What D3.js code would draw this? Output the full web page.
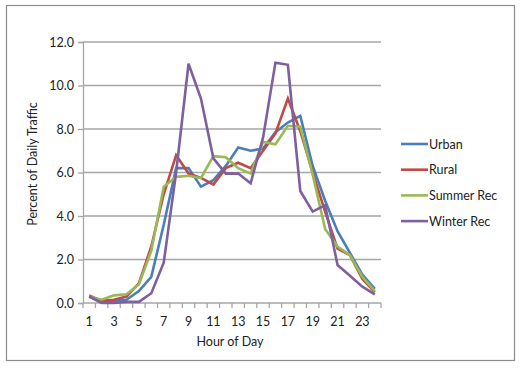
<!DOCTYPE html>
<html><head><meta charset="utf-8">
<script src="https://cdn.jsdelivr.net/npm/d3@7/dist/d3.min.js"></script>
<style>body{margin:0;background:#fff;}svg{display:block;}</style>
</head><body>
<script>
const hours = d3.range(1, 25);
const xTickLabels = [1,3,5,7,9,11,13,15,17,19,21,23];
const yTicks = [0,2,4,6,8,10,12];
const seriesNames = ["Urban","Rural","Summer Rec","Winter Rec"];
const seriesColors = ["#4A7EBB","#BE4B48","#98B954","#7D60A0"];
const urban = [0.3,0.1,0.1,0.15,0.55,1.2,3.6,6.2,6.2,5.35,5.65,6.3,7.15,7.0,7.1,7.85,8.3,8.6,6.3,4.7,3.3,2.3,1.3,0.65];
const rural = [0.35,0.1,0.15,0.3,0.9,2.6,5.0,6.8,5.95,5.75,5.45,6.2,6.45,6.2,7.0,7.8,9.4,7.9,6.0,4.2,2.5,2.2,1.1,0.5];
const summerRec = [0.3,0.15,0.35,0.4,0.85,2.4,5.35,5.8,5.85,5.75,6.75,6.7,6.2,5.95,7.4,7.3,8.15,8.1,5.9,3.4,2.6,2.2,1.2,0.55];
const winterRec = [0.3,0.0,0.0,0.05,0.05,0.45,1.85,6.0,11.0,9.4,6.65,5.95,5.95,5.5,7.6,11.05,10.95,5.15,4.2,4.5,1.75,1.25,0.75,0.4];
const allSeries = [urban, rural, summerRec, winterRec];

const W = 527, H = 368;
const mLeft = 83, mRight = 381, mTop = 42, mBottom = 303;
const font = "Lato, 'Open Sans', sans-serif";

const svg = d3.select("body").append("svg").attr("width", W).attr("height", H);
svg.append("rect").attr("x", 6.5).attr("y", 5.5).attr("width", 508).attr("height", 355)
  .attr("fill", "#fff").attr("stroke", "#8c8c8c").attr("stroke-width", 1.2);

const x = d3.scaleBand().domain(hours).range([mLeft, mRight]).padding(0);
const y = d3.scaleLinear().domain([0, 12]).range([mBottom, mTop]);

// gridlines
svg.append("g").selectAll("line").data(yTicks.filter(d => d > 0)).join("line")
  .attr("x1", mLeft).attr("x2", mRight).attr("y1", d => y(d)).attr("y2", d => y(d))
  .attr("stroke", "#a6a6a6").attr("stroke-width", 1.3);

// y axis
const yAxis = svg.append("g").attr("transform", `translate(${mLeft},0)`)
  .call(d3.axisLeft(y).tickValues(yTicks).tickFormat(d3.format(".1f")).tickSize(5).tickPadding(4));
yAxis.select(".domain").attr("stroke", "#a6a6a6").attr("stroke-width", 1.3);
yAxis.selectAll(".tick line").attr("stroke", "#a6a6a6").attr("stroke-width", 1.3);
yAxis.selectAll("text").attr("font-family", font).attr("font-size", 12.5).attr("fill", "#222");

// x axis baseline and ticks between categories
const xg = svg.append("g");
xg.append("line").attr("x1", mLeft).attr("x2", mRight).attr("y1", mBottom).attr("y2", mBottom)
  .attr("stroke", "#a6a6a6").attr("stroke-width", 1.3);
const boundaries = hours.map(h => x(h)).concat([x(24) + x.bandwidth()]);
xg.selectAll("line.t").data(boundaries).join("line").attr("class", "t")
  .attr("x1", d => d).attr("x2", d => d).attr("y1", mBottom).attr("y2", mBottom + 5)
  .attr("stroke", "#a6a6a6").attr("stroke-width", 1.3);
xg.selectAll("text").data(xTickLabels).join("text")
  .attr("x", d => x(d) + x.bandwidth() / 2).attr("y", mBottom + 23)
  .attr("text-anchor", "middle").attr("font-family", font).attr("font-size", 12.5).attr("fill", "#222")
  .text(d => d);

// lines
const line = d3.line().x((d, i) => x(hours[i]) + x.bandwidth() / 2).y(d => y(d));
svg.append("g").selectAll("path").data(allSeries).join("path")
  .attr("d", d => line(d)).attr("fill", "none")
  .attr("stroke", (d, i) => seriesColors[i]).attr("stroke-width", 2.6)
  .attr("stroke-linejoin", "miter");

// axis titles
svg.append("text").attr("x", 230).attr("y", 346).attr("text-anchor", "middle")
  .attr("font-family", font).attr("font-size", 12.5).attr("fill", "#222").text("Hour of Day");
svg.append("text").attr("transform", "translate(37,164) rotate(-90)").attr("text-anchor", "middle")
  .attr("font-family", font).attr("font-size", 12.5).attr("fill", "#222").text("Percent of Daily Traffic");

// legend
const lg = svg.append("g").selectAll("g").data(seriesNames).join("g")
  .attr("transform", (d, i) => `translate(401,${144 + i * 25.7})`);
lg.append("line").attr("x1", 0).attr("x2", 27).attr("stroke", (d, i) => seriesColors[i]).attr("stroke-width", 2.6);
lg.append("text").attr("x", 28).attr("y", 4.5).attr("font-family", font).attr("font-size", 12.5)
  .attr("fill", "#222").text(d => d);
</script>
</body></html>
